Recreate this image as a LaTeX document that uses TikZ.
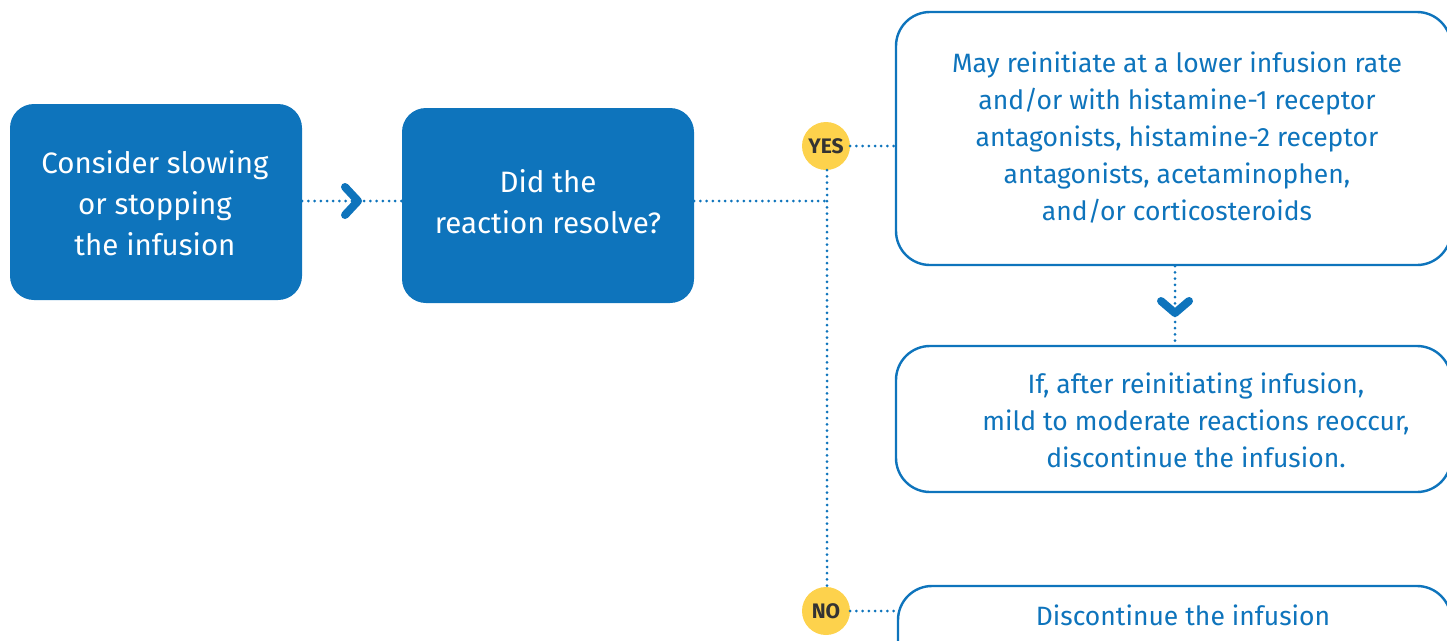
\documentclass[tikz,border=0pt]{standalone}
\usepackage{fontspec}
\setmainfont{Fira Sans}
\definecolor{mblue}{HTML}{0E74BC}
\definecolor{myellow}{HTML}{FDD24C}
\definecolor{mgray}{HTML}{333333}
\begin{document}
\begin{tikzpicture}[x=1pt,y=-1pt,
 solidbox/.style={fill=mblue, rounded corners=24pt, inner sep=0pt},
 outbox/.style={draw=mblue, line width=2.4pt, rounded corners=34pt, fill=white, inner sep=0pt},
 wtext/.style={text=white, align=center, font=\fontsize{29.5}{41}\selectfont},
 btext/.style={text=mblue, align=center, font=\fontsize{26.5}{37}\selectfont},
 dotline/.style={mblue, line width=3pt, line cap=round, dash pattern=on 0pt off 6.2pt},
 chev/.style={mblue, line width=8pt, line cap=round, line join=round},
 badge/.style={circle, fill=myellow, minimum size=48pt, inner sep=0pt, text=mgray, font=\bfseries\fontsize{21}{21}\selectfont}]
\useasboundingbox (0,0) rectangle (1447,640);
\clip (0,0) rectangle (1447,640);
% boxes
\node[solidbox, minimum width=292pt, minimum height=196pt] (b1) at (156,202) {};
\node[solidbox, minimum width=292pt, minimum height=195pt] (b2) at (548,205.5) {};
\node[outbox, minimum width=555pt, minimum height=253pt] (b3) at (1173.5,138.5) {};
\node[outbox, minimum width=555pt, minimum height=146pt] (b4) at (1173.5,419) {};
\node[outbox, minimum width=553pt, minimum height=94pt] (b5) at (1174.5,633) {};
% texts
\node[wtext] (t1) at (155,203) {Consider slowing\\or stopping\\the infusion};
\node[wtext] (t2) at (548,202) {Did the\\reaction resolve?};
\node[btext] (t3) at (1177,137.6) {May reinitiate at a lower infusion rate\\and/or with histamine-1 receptor\\antagonists, histamine-2 receptor\\antagonists, acetaminophen,\\and/or corticosteroids};
\node[btext] (t4) at (1196,420) {If, after reinitiating infusion,\\mild to moderate reactions reoccur,\\discontinue the infusion.};
\node[btext] (t5) at (1183,615) {Discontinue the infusion};
% badges
\node[badge] (yes) at (826,146) {YES};
\node[badge] (no) at (826,611) {NO};
% connectors
\coordinate (j) at (827,201);
\draw[dotline] (b1.east |- j) -- (b2.west |- j);
\draw[dotline] (b2.east |- j) -- (j);
\draw[dotline] (yes.south -| j) -- (no.north -| j);
\draw[dotline] (yes.east) -- (b3.west |- yes.east);
\draw[dotline] (no.east) -- (b5.west |- no.east);
\coordinate (c2) at (1175,313);
\draw[dotline] (c2 |- b3.south) -- (c2 |- b4.north);
% chevrons
\coordinate (c1) at (358,201);
\draw[chev] (c1) ++(-13,-14) -- (c1) -- ++(-13,14);
\draw[chev] (c2) ++(-14,-12) -- (c2) -- ++(14,-12);
\end{tikzpicture}
\end{document}
